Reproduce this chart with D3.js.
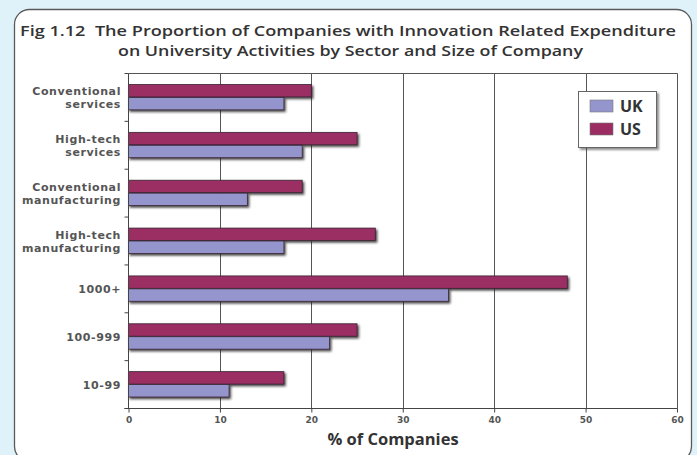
<!DOCTYPE html>
<html>
<head>
<meta charset="utf-8">
<script src="https://cdn.jsdelivr.net/npm/d3@7"></script>
<style>
  html, body { margin: 0; padding: 0; background: #dff1f9; }
  svg { display: block; }
  text.title { white-space: pre; }
</style>
</head>
<body>
<svg id="chart" width="697" height="455"></svg>
<script>
// Categories, top to bottom
const categories = [
  ["Conventional", "services"],
  ["High-tech", "services"],
  ["Conventional", "manufacturing"],
  ["High-tech", "manufacturing"],
  ["1000+"],
  ["100-999"],
  ["10-99"]
];
const seriesNames = ["US", "UK"];
const usValues = [20, 25, 19, 27, 48, 25, 17];
const ukValues = [17, 19, 13, 17, 35, 22, 11];
const xTicks = [0, 10, 20, 30, 40, 50, 60];
const titleLines = [
  "Fig 1.12  The Proportion of Companies with Innovation Related Expenditure",
  "on University Activities by Sector and Size of Company"
];
const xLabel = "% of Companies";

const colors = { US: "#9b2d63", UK: "#9595cd" };

const svg = d3.select("#chart");
const defs = svg.append("defs");

const shadow = defs.append("filter").attr("id", "barShadow")
  .attr("x", "-5%").attr("y", "-30%").attr("width", "115%").attr("height", "180%");
shadow.append("feDropShadow").attr("dx", 1.5).attr("dy", 1.8)
  .attr("stdDeviation", 1).attr("flood-color", "#1a1a1a").attr("flood-opacity", 0.8);

const boxShadow = defs.append("filter").attr("id", "boxShadow")
  .attr("x", "-10%").attr("y", "-10%").attr("width", "130%").attr("height", "130%");
boxShadow.append("feDropShadow").attr("dx", 2).attr("dy", 2)
  .attr("stdDeviation", 1.2).attr("flood-color", "#444").attr("flood-opacity", 0.6);

// White rounded panel
svg.append("rect")
  .attr("x", 14.5).attr("y", 9.5).attr("width", 677).attr("height", 452)
  .attr("rx", 15).attr("ry", 15)
  .attr("fill", "#ffffff").attr("stroke", "#5a5a5a").attr("stroke-width", 1.3);

// Title
const titleFont = "'Open Sans', 'Noto Sans', sans-serif";
svg.append("text").attr("class", "title")
  .attr("x", 20).attr("y", 36)
  .attr("textLength", 656).attr("lengthAdjust", "spacingAndGlyphs")
  .attr("font-family", titleFont).attr("font-weight", 600).attr("font-size", 15)
  .attr("fill", "#333").text(titleLines[0]);
svg.append("text").attr("class", "title")
  .attr("x", 118).attr("y", 56)
  .attr("textLength", 465).attr("lengthAdjust", "spacingAndGlyphs")
  .attr("font-family", titleFont).attr("font-weight", 600).attr("font-size", 15)
  .attr("fill", "#333").text(titleLines[1]);

// Plot area
const plot = { left: 128.5, right: 677, top: 73.5, bottom: 408.5 };

const x = d3.scaleLinear().domain([0, 60]).range([plot.left, plot.right]);
const y = d3.scaleBand().domain(d3.range(categories.length))
  .range([plot.top, plot.bottom]).paddingInner(0.46).paddingOuter(0.23).align(0.5);
const ySub = d3.scaleBand().domain(seriesNames).range([0, y.bandwidth()]);

const g = svg.append("g");

// Vertical gridlines
g.append("g").selectAll("line")
  .data(xTicks.slice(1))
  .join("line")
  .attr("x1", d => Math.round(x(d)) + 0.5).attr("x2", d => Math.round(x(d)) + 0.5)
  .attr("y1", plot.top).attr("y2", plot.bottom)
  .attr("stroke", "#555").attr("stroke-width", 1);

// Top border of plot
g.append("line")
  .attr("x1", plot.left).attr("x2", plot.right + 0.5)
  .attr("y1", plot.top).attr("y2", plot.top)
  .attr("stroke", "#555").attr("stroke-width", 1);

// Bars
const rows = categories.map((c, i) => ({ i, US: usValues[i], UK: ukValues[i] }));
const groups = g.append("g").selectAll("g")
  .data(rows)
  .join("g")
  .attr("transform", d => `translate(0,${y(d.i)})`);

groups.selectAll("rect")
  .data(d => seriesNames.map(s => ({ s, v: d[s] })))
  .join("rect")
  .attr("x", x(0))
  .attr("y", d => ySub(d.s))
  .attr("width", d => x(d.v) - x(0))
  .attr("height", ySub.bandwidth() - 0.5)
  .attr("fill", d => colors[d.s])
  .attr("stroke", "#3b2635").attr("stroke-width", 0.8)
  .attr("filter", "url(#barShadow)");

// X axis
const xAxis = d3.axisBottom(x).tickValues(xTicks).tickSize(4).tickSizeOuter(0).tickPadding(4);
const xg = svg.append("g").attr("transform", `translate(0,${plot.bottom})`).call(xAxis);
xg.select(".domain").attr("stroke", "#444").attr("d", `M${plot.left - 4},0H${plot.right + 0.5}`);
xg.selectAll(".tick line").attr("stroke", "#444");
xg.selectAll(".tick text")
  .attr("font-family", "'DejaVu Sans', sans-serif").attr("font-weight", "bold")
  .attr("font-size", 9).attr("fill", "#555");

// Y axis: ticks at category boundaries
const yAxisG = svg.append("g");
yAxisG.append("line")
  .attr("x1", plot.left).attr("x2", plot.left)
  .attr("y1", plot.top).attr("y2", plot.bottom)
  .attr("stroke", "#444");
yAxisG.selectAll("line.tk")
  .data(d3.range(categories.length + 1))
  .join("line").attr("class", "tk")
  .attr("x1", plot.left - 4).attr("x2", plot.left)
  .attr("y1", i => plot.top + i * y.step()).attr("y2", i => plot.top + i * y.step())
  .attr("stroke", "#444");

// Category labels
const labelG = svg.append("g")
  .attr("font-family", "'DejaVu Sans', sans-serif").attr("font-weight", "bold")
  .attr("font-size", 11).attr("letter-spacing", 0.6)
  .attr("fill", "#555").attr("text-anchor", "end");
categories.forEach((lines, i) => {
  const cy = y(i) + y.bandwidth() / 2;
  const t = labelG.append("text").attr("y", cy - (lines.length - 1) * 6.5 + 4);
  lines.forEach((ln, k) => {
    t.append("tspan").attr("x", 121).attr("dy", k === 0 ? 0 : 13).text(ln);
  });
});

// X axis title
svg.append("text")
  .attr("x", 393).attr("y", 445).attr("text-anchor", "middle")
  .attr("font-family", titleFont).attr("font-weight", 700).attr("font-size", 16.5)
  .attr("fill", "#333").text(xLabel);

// Legend
const legend = svg.append("g").attr("transform", "translate(578,91)");
legend.append("rect").attr("x", 0.5).attr("y", 0.5).attr("width", 78).attr("height", 56)
  .attr("fill", "#fff").attr("stroke", "#666").attr("stroke-width", 1)
  .attr("filter", "url(#boxShadow)");
const legendOrder = ["UK", "US"];
legendOrder.forEach((s, k) => {
  legend.append("rect").attr("x", 12).attr("y", 9 + k * 23).attr("width", 23).attr("height", 12)
    .attr("fill", colors[s]).attr("stroke", "#777").attr("stroke-width", 0.6);
  legend.append("text").attr("x", 42).attr("y", 21 + k * 23)
    .attr("font-family", titleFont).attr("font-weight", 700).attr("font-size", 16)
    .attr("fill", "#333").text(s);
});
</script>
</body>
</html>
